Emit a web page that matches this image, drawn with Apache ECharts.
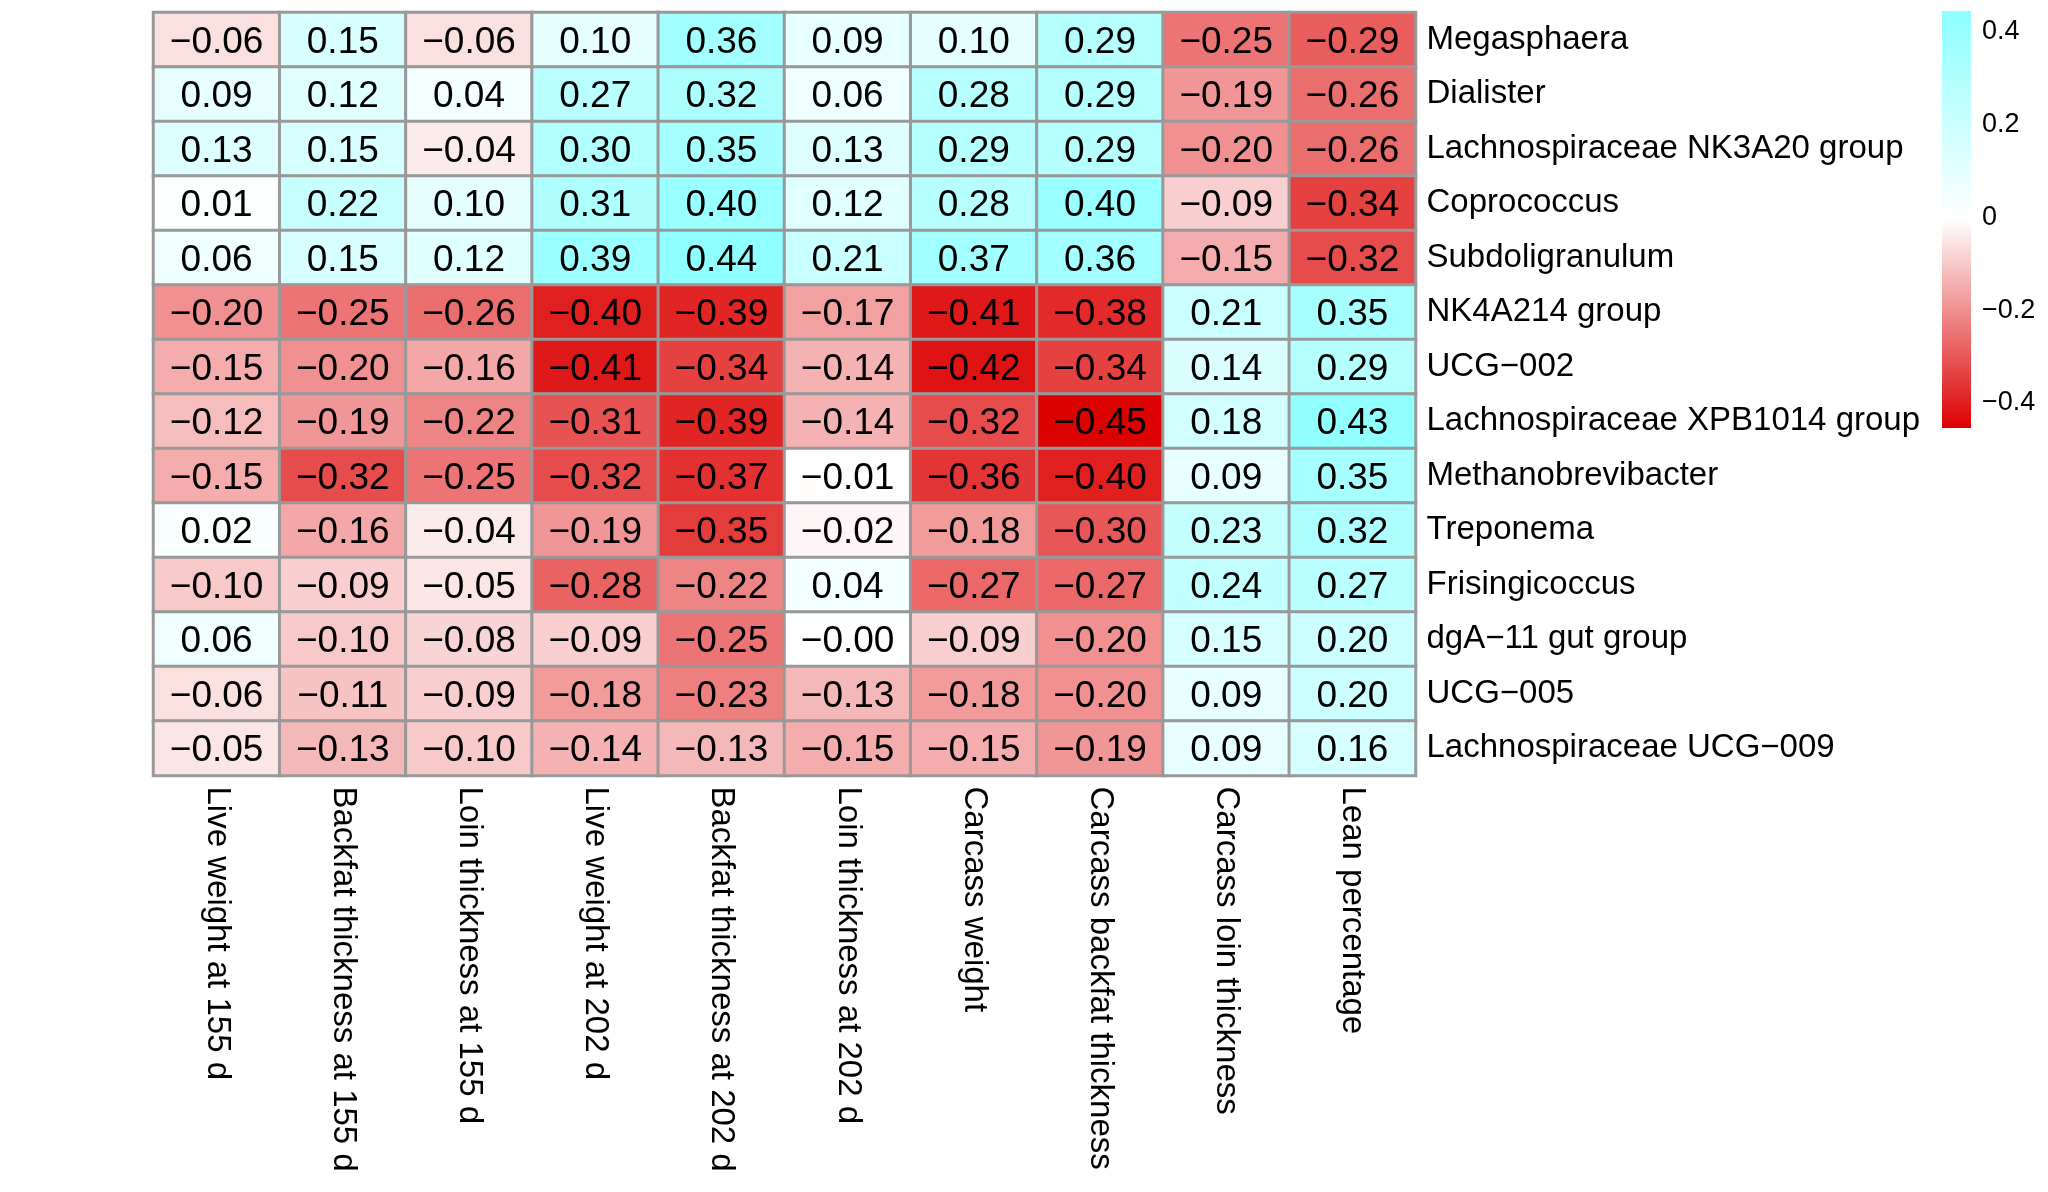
<!DOCTYPE html>
<html>
<head>
<meta charset="utf-8">
<title>Genus vs carcass traits heatmap</title>
<script src="https://cdn.jsdelivr.net/npm/echarts@6/dist/echarts.min.js"></script>
<style>
  html, body { margin: 0; padding: 0; background: #fff; }
  #main { width: 2048px; height: 1192px; }
</style>
</head>
<body>
<div id="main"></div>
<script>
// columns (traits)
var traits = [
  'Live weight at 155 d', 'Backfat thickness at 155 d', 'Loin thickness at 155 d',
  'Live weight at 202 d', 'Backfat thickness at 202 d', 'Loin thickness at 202 d',
  'Carcass weight', 'Carcass backfat thickness', 'Carcass loin thickness', 'Lean percentage'
];

// rows (genera), top to bottom
var genera = [
  'Megasphaera', 'Dialister', 'Lachnospiraceae NK3A20 group', 'Coprococcus',
  'Subdoligranulum', 'NK4A214 group', 'UCG\u2212002', 'Lachnospiraceae XPB1014 group',
  'Methanobrevibacter', 'Treponema', 'Frisingicoccus', 'dgA\u221211 gut group',
  'UCG\u2212005', 'Lachnospiraceae UCG\u2212009'
];

// correlation values, one row per genus
var megasphaera   = [-0.06, 0.15, -0.06, 0.10, 0.36, 0.09, 0.10, 0.29, -0.25, -0.29];
var dialister     = [0.09, 0.12, 0.04, 0.27, 0.32, 0.06, 0.28, 0.29, -0.19, -0.26];
var nk3a20        = [0.13, 0.15, -0.04, 0.30, 0.35, 0.13, 0.29, 0.29, -0.20, -0.26];
var coprococcus   = [0.01, 0.22, 0.10, 0.31, 0.40, 0.12, 0.28, 0.40, -0.09, -0.34];
var subdoli       = [0.06, 0.15, 0.12, 0.39, 0.44, 0.21, 0.37, 0.36, -0.15, -0.32];
var nk4a214       = [-0.20, -0.25, -0.26, -0.40, -0.39, -0.17, -0.41, -0.38, 0.21, 0.35];
var ucg002        = [-0.15, -0.20, -0.16, -0.41, -0.34, -0.14, -0.42, -0.34, 0.14, 0.29];
var xpb1014       = [-0.12, -0.19, -0.22, -0.31, -0.39, -0.14, -0.32, -0.45, 0.18, 0.43];
var methano       = [-0.15, -0.32, -0.25, -0.32, -0.37, -0.01, -0.36, -0.40, 0.09, 0.35];
var treponema     = [0.02, -0.16, -0.04, -0.19, -0.35, -0.02, -0.18, -0.30, 0.23, 0.32];
var frisingi      = [-0.10, -0.09, -0.05, -0.28, -0.22, 0.04, -0.27, -0.27, 0.24, 0.27];
var dga11         = [0.06, -0.10, -0.08, -0.09, -0.25, -0.00, -0.09, -0.20, 0.15, 0.20];
var ucg005        = [-0.06, -0.11, -0.09, -0.18, -0.23, -0.13, -0.18, -0.20, 0.09, 0.20];
var ucg009        = [-0.05, -0.13, -0.10, -0.14, -0.13, -0.15, -0.15, -0.19, 0.09, 0.16];

var rows = [megasphaera, dialister, nk3a20, coprococcus, subdoli, nk4a214, ucg002,
  xpb1014, methano, treponema, frisingi, dga11, ucg005, ucg009];

// colour scale
var scaleMin = -0.454;
var scaleMax = 0.445;
var palette = ['#DC0000', '#FFFFFF', '#8EFFFF'];
var legendTicks = [-0.4, -0.2, 0, 0.2, 0.4];

function fmt(v, digits) {
  var neg = v < 0 || Object.is(v, -0);
  return (neg ? '\u2212' : '') + Math.abs(v).toFixed(digits);
}

var cells = [];
rows.forEach(function (r, yi) {
  r.forEach(function (v, xi) { cells.push([xi, yi, v]); });
});

var font = 'Liberation Sans, Arial, sans-serif';
var chart = echarts.init(document.getElementById('main'));

chart.setOption({
  backgroundColor: '#fff',
  animation: false,
  grid: [
    { left: 153.5, top: 12.5, width: 1262, height: 763 },
    { left: 1942, top: 11, width: 29, height: 417 }
  ],
  xAxis: [
    {
      type: 'category', gridIndex: 0, data: traits, position: 'bottom',
      axisLine: { show: false }, axisTick: { show: false }, splitLine: { show: false },
      axisLabel: { rotate: -90, margin: 11, fontSize: 33, color: '#000', fontFamily: font, interval: 0 }
    },
    {
      type: 'category', gridIndex: 1, data: ['scale'], show: false
    }
  ],
  yAxis: [
    {
      type: 'category', gridIndex: 0, data: genera, inverse: true, position: 'right',
      axisLine: { show: false }, axisTick: { show: false }, splitLine: { show: false },
      axisLabel: {
        margin: 11, fontSize: 33, color: '#000', fontFamily: font, interval: 0,
        padding: [9, 0, 0, 0]
      }
    },
    {
      type: 'value', gridIndex: 1, min: scaleMin, max: scaleMax, position: 'right',
      axisLine: { show: false }, axisTick: { show: false }, splitLine: { show: false },
      axisLabel: {
        customValues: legendTicks, margin: 11, fontSize: 27, color: '#000', fontFamily: font,
        formatter: function (v) { return v === 0 ? '0' : fmt(v, 1); }
      }
    }
  ],
  visualMap: {
    type: 'continuous', show: false, seriesIndex: 0,
    min: scaleMin, max: scaleMax, inRange: { color: palette }
  },
  series: [
    {
      type: 'heatmap', xAxisIndex: 0, yAxisIndex: 0, data: cells,
      itemStyle: { borderColor: '#999999', borderWidth: 3 },
      label: {
        show: true, fontSize: 37, color: '#000', fontFamily: font, offset: [0, 3],
        formatter: function (p) { return fmt(p.value[2], 2); }
      },
      emphasis: { disabled: true }
    },
    {
      type: 'custom', xAxisIndex: 1, yAxisIndex: 1, silent: true,
      data: [[0, scaleMin, scaleMax]],
      renderItem: function (params, api) {
        var bottom = api.coord([api.value(0), api.value(1)]);
        var top = api.coord([api.value(0), api.value(2)]);
        var w = api.size([1, 0])[0];
        return {
          type: 'rect',
          shape: { x: top[0] - w / 2, y: top[1], width: w, height: bottom[1] - top[1] },
          style: {
            fill: new echarts.graphic.LinearGradient(0, 0, 0, 1, [
              { offset: 0, color: palette[2] },
              { offset: 0.5, color: palette[1] },
              { offset: 1, color: palette[0] }
            ])
          }
        };
      }
    }
  ]
});
</script>
</body>
</html>
